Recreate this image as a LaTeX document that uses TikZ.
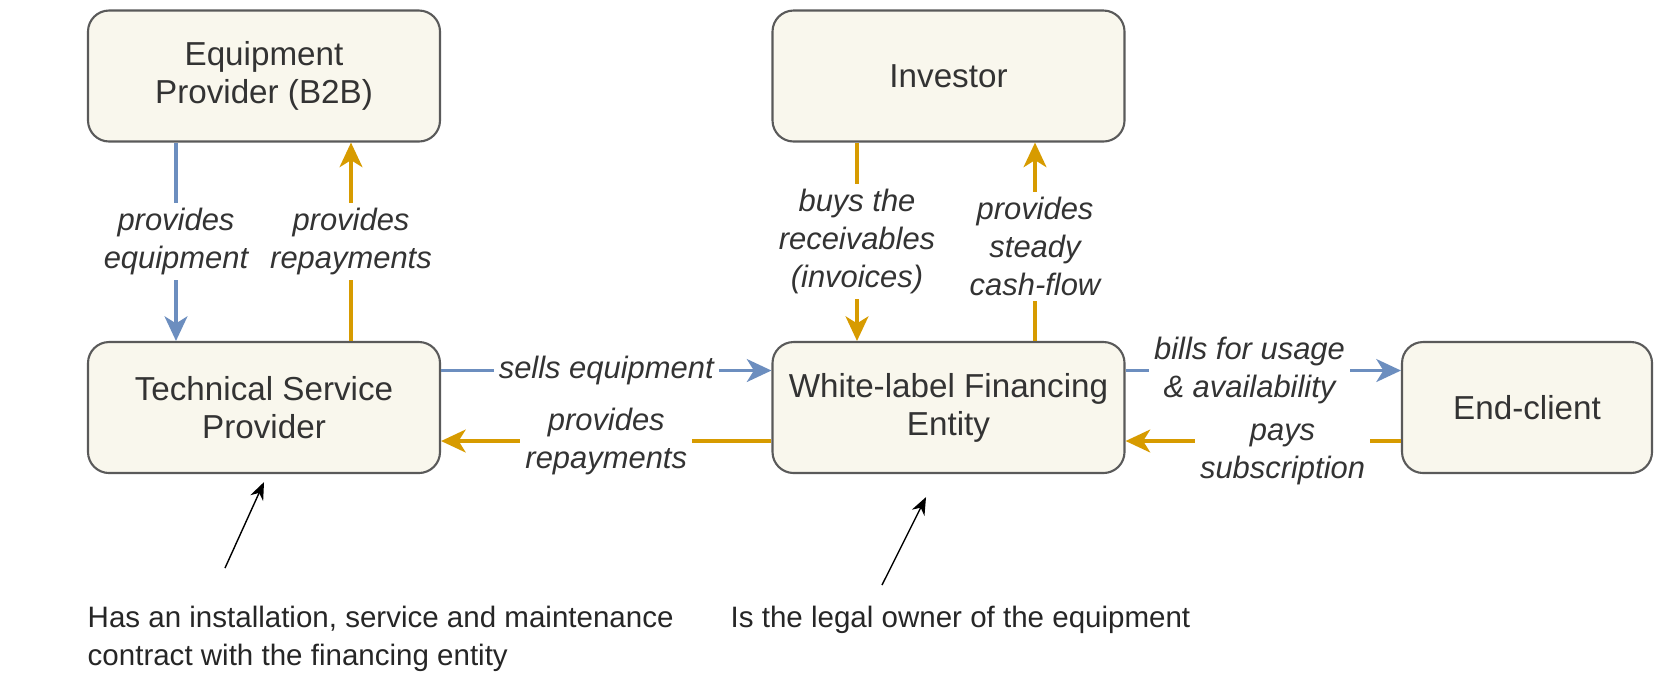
\documentclass[tikz,border=0pt]{standalone}
\usepackage{fontspec}
\setmainfont{Liberation Sans}
\usetikzlibrary{arrows.meta,positioning}
\definecolor{boxfill}{HTML}{F9F7ED}
\definecolor{boxline}{HTML}{5A5A5A}
\definecolor{flowblue}{HTML}{6C8EBF}
\definecolor{flowgold}{HTML}{D79B00}
\definecolor{labeltext}{HTML}{333333}
\begin{document}
\begin{tikzpicture}[
      every node/.style={font=\fontsize{8.8pt}{10.8pt}\selectfont},
      entity/.style={rectangle, draw=boxline, fill=boxfill, line width=0.6pt, rounded corners=6pt, minimum width=3.52cm, minimum height=1.31cm, align=center, text=black!80, font=\fontsize{9.45pt}{10.8pt}\selectfont},
      flow/.style={line width=1pt, -{Stealth[length=7pt, width=6.5pt, inset=2pt]}},
      blueflow/.style={flow, draw=flowblue},
      goldflow/.style={flow, draw=flowgold},
      lbl/.style={fill=white, inner sep=1.5pt, align=center, text=labeltext, font=\fontsize{8.8pt}{10.8pt}\selectfont\itshape},
      remark/.style={align=left, inner sep=0pt, font=\fontsize{8.4pt}{10.8pt}\selectfont, text=black!85},
      pointer/.style={thin, black, -{Stealth[length=5pt, width=4pt]}}
  ]
    \useasboundingbox (0,0) rectangle (16.55,-6.74);

    \node[entity] (equip) at (2.64,-0.76) {Equipment\\Provider (B2B)};
    \node[entity] (investor) at (9.485,-0.76) {Investor};
    \node[entity] (service) at (2.64,-4.075) {Technical Service\\Provider};
    \node[entity] (financer) at (9.485,-4.075) {White-label Financing\\Entity};
    \node[entity, minimum width=2.50cm] (client) at (15.27,-4.075) {End-client};

    \draw[blueflow] ([xshift=-0.88cm]equip.south) -- node[lbl] {provides\\equipment} ([xshift=-0.88cm]service.north);
    \draw[goldflow] ([xshift=0.87cm]service.north) -- node[lbl] {provides\\repayments} ([xshift=0.87cm]equip.south);
    \draw[goldflow] ([xshift=-0.915cm]investor.south) -- node[lbl] {buys the\\receivables\\(invoices)} ([xshift=-0.915cm]financer.north);
    \draw[goldflow] ([xshift=0.865cm]financer.north) -- node[lbl, yshift=-0.05cm] {provides\\steady\\cash-flow} ([xshift=0.865cm]investor.south);
    \draw[blueflow] ([yshift=0.37cm]service.east) -- node[lbl] {sells equipment} ([yshift=0.37cm]financer.west);
    \draw[goldflow] ([yshift=-0.335cm]financer.west) -- node[lbl] {provides\\repayments} ([yshift=-0.335cm]service.east);
    \draw[blueflow] ([yshift=0.37cm]financer.east) -- node[lbl, pos=0.45] {bills for usage\\\& availability} ([yshift=0.37cm]client.west);
    \draw[goldflow] ([yshift=-0.335cm]client.west) -- node[lbl, pos=0.43, yshift=-0.13cm] {pays\\subscription} ([yshift=-0.335cm]financer.east);

    % remarks below the boxes
    \coordinate (servicetail) at (2.25,-5.68);
    \draw[pointer] (servicetail) -- ([yshift=-0.08cm]service.south);
    \node[remark, anchor=base west] (servicenote) at (0.87,-6.65) {Has an installation, service and maintenance\\contract with the financing entity};
    \coordinate (financertail) at (8.82,-5.85);
    \draw[pointer] (financertail) -- ([xshift=-0.225cm, yshift=-0.23cm]financer.south);
    \node[remark, anchor=base west] (financernote) at (7.30,-6.27) {Is the legal owner of the equipment};
\end{tikzpicture}
\end{document}
